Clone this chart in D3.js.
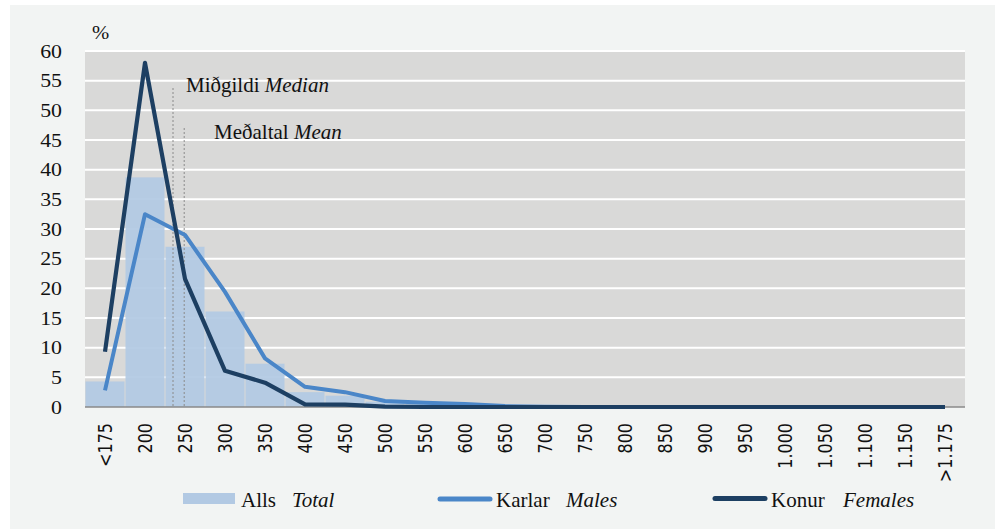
<!DOCTYPE html>
<html>
<head>
<meta charset="utf-8">
<script src="https://cdn.jsdelivr.net/npm/d3@7"></script>
<style>
  html, body { margin: 0; padding: 0; background: #ffffff; }
  svg { display: block; }
</style>
</head>
<body>
<svg id="chart" width="1000" height="529"></svg>
<script>
// ---- data ----
const categories = ["<175","200","250","300","350","400","450","500","550","600","650","700","750","800","850","900","950","1.000","1.050","1.100","1.150",">1.175"];
const totalValues   = [4.3, 38.7, 27.0, 16.1, 7.3, 2.5, 1.9, 0.9, 0.5, 0.3, 0.1, 0.05, 0, 0, 0, 0, 0, 0, 0, 0, 0, 0];
const malesValues   = [2.8, 32.5, 29.0, 19.4, 8.2, 3.4, 2.5, 1.0, 0.7, 0.5, 0.15, 0.05, 0, 0, 0, 0, 0, 0, 0, 0, 0, 0];
const femalesValues = [9.3, 58.0, 21.6, 6.1, 4.1, 0.45, 0.4, 0.05, 0, 0, 0, 0, 0, 0, 0, 0, 0, 0, 0, 0, 0, 0];
const yTicks = [0,5,10,15,20,25,30,35,40,45,50,55,60];
const medianValue = 235;
const meanValue = 249;
const legendLabels = [["Alls","Total"],["Karlar","Males"],["Konur","Females"]];

// ---- layout ----
(function () {
const svg = d3.select("#chart");
const pLeft = 85, pRight = 965, pTop = 51, pBottom = 407;
const serif = "Liberation Serif, serif";
const sans = "DejaVu Sans, sans-serif";

svg.append("rect").attr("x", 10).attr("y", 5).attr("width", 985).attr("height", 524).attr("fill", "#f2f4f3");

const x = d3.scaleBand().domain(categories).range([pLeft, pRight]).padding(0);
const y = d3.scaleLinear().domain([0, 60]).range([pBottom, pTop]);
const xv = d3.scaleLinear().domain([200, 250]).range([x("200") + x.bandwidth()/2, x("250") + x.bandwidth()/2]);

// plot background
svg.append("rect").attr("x", pLeft).attr("y", pTop).attr("width", pRight - pLeft).attr("height", pBottom - pTop).attr("fill", "#d9d9d8");

// gridlines
svg.append("g").selectAll("line").data(yTicks.filter(d => d > 0)).join("line")
  .attr("x1", pLeft).attr("x2", pRight)
  .attr("y1", d => y(d)).attr("y2", d => y(d))
  .attr("stroke", "#ffffff").attr("stroke-width", 2);

// bars
svg.append("g").selectAll("rect").data(totalValues).join("rect")
  .attr("x", (d, i) => x(categories[i]) + 0.5)
  .attr("width", x.bandwidth() - 1)
  .attr("y", d => y(d))
  .attr("height", d => y(0) - y(d))
  .attr("fill", "#b2c9e3").attr("fill-opacity", 0.93);

// bottom axis line
svg.append("line").attr("x1", pLeft).attr("x2", pRight).attr("y1", y(0)).attr("y2", y(0))
  .attr("stroke", "#8a8a8a").attr("stroke-width", 1.5);

// median / mean lines
svg.append("line").attr("x1", xv(medianValue)).attr("x2", xv(medianValue))
  .attr("y1", 88).attr("y2", y(0))
  .attr("stroke", "#8a8a8a").attr("stroke-width", 1).attr("stroke-dasharray", "2,2");
svg.append("line").attr("x1", xv(meanValue)).attr("x2", xv(meanValue))
  .attr("y1", 128).attr("y2", y(0))
  .attr("stroke", "#8a8a8a").attr("stroke-width", 1).attr("stroke-dasharray", "2,2");

// lines
const cx = i => x(categories[i]) + x.bandwidth()/2;
const line = d3.line().x((d, i) => cx(i)).y(d => y(d));
svg.append("path").datum(malesValues).attr("d", line)
  .attr("fill", "none").attr("stroke", "#4a86c8").attr("stroke-width", 4).attr("stroke-linejoin", "round");
svg.append("path").datum(femalesValues).attr("d", line)
  .attr("fill", "none").attr("stroke", "#1d3f62").attr("stroke-width", 4.2).attr("stroke-linejoin", "round");

// annotations
const ann1 = svg.append("text").attr("x", 186).attr("y", 92).style("font-family", serif).attr("font-size", 21).attr("fill", "#111");
ann1.append("tspan").text("Miðgildi ");
ann1.append("tspan").attr("font-style", "italic").text("Median");
const ann2 = svg.append("text").attr("x", 214).attr("y", 139).style("font-family", serif).attr("font-size", 21).attr("fill", "#111");
ann2.append("tspan").text("Meðaltal ");
ann2.append("tspan").attr("font-style", "italic").text("Mean");

// y tick labels
svg.append("g").selectAll("text").data(yTicks).join("text")
  .attr("transform", d => `translate(62,${y(d)}) scale(1.15,1)`)
  .attr("dy", "0.35em").attr("text-anchor", "end")
  .style("font-family", serif).attr("font-size", 19).attr("fill", "#111")
  .text(d => d);
svg.append("text").attr("transform", "translate(92,39) scale(1.15,1)")
  .style("font-family", serif).attr("font-size", 18).attr("fill", "#111").text("%");

// x tick labels
svg.append("g").selectAll("text").data(categories).join("text")
  .attr("transform", d => `translate(${x(d) + x.bandwidth()/2},423) scale(1.22,1) rotate(-90)`)
  .attr("dy", "0.36em").attr("text-anchor", "end")
  .style("font-family", sans).attr("font-size", 16).attr("fill", "#111")
  .text(d => d);

// legend
const lg = svg.append("g");
lg.append("rect").attr("x", 183).attr("y", 493).attr("width", 52).attr("height", 11).attr("fill", "#b2c9e3");
lg.append("line").attr("x1", 440).attr("x2", 490).attr("y1", 499).attr("y2", 499)
  .attr("stroke", "#4a86c8").attr("stroke-width", 5).attr("stroke-linecap", "round");
lg.append("line").attr("x1", 715).attr("x2", 765).attr("y1", 498.5).attr("y2", 498.5)
  .attr("stroke", "#1d3f62").attr("stroke-width", 5).attr("stroke-linecap", "round");
const legendPos = [[241, 292], [496, 566], [771, 843]];
legendLabels.forEach((lab, i) => {
  lg.append("text").attr("x", legendPos[i][0]).attr("y", 507).style("font-family", serif).attr("font-size", 21)
    .attr("fill", "#111").text(lab[0]);
  lg.append("text").attr("x", legendPos[i][1]).attr("y", 507).style("font-family", serif).attr("font-size", 21)
    .attr("font-style", "italic").attr("fill", "#111").text(lab[1]);
});
})();
</script>
</body>
</html>
